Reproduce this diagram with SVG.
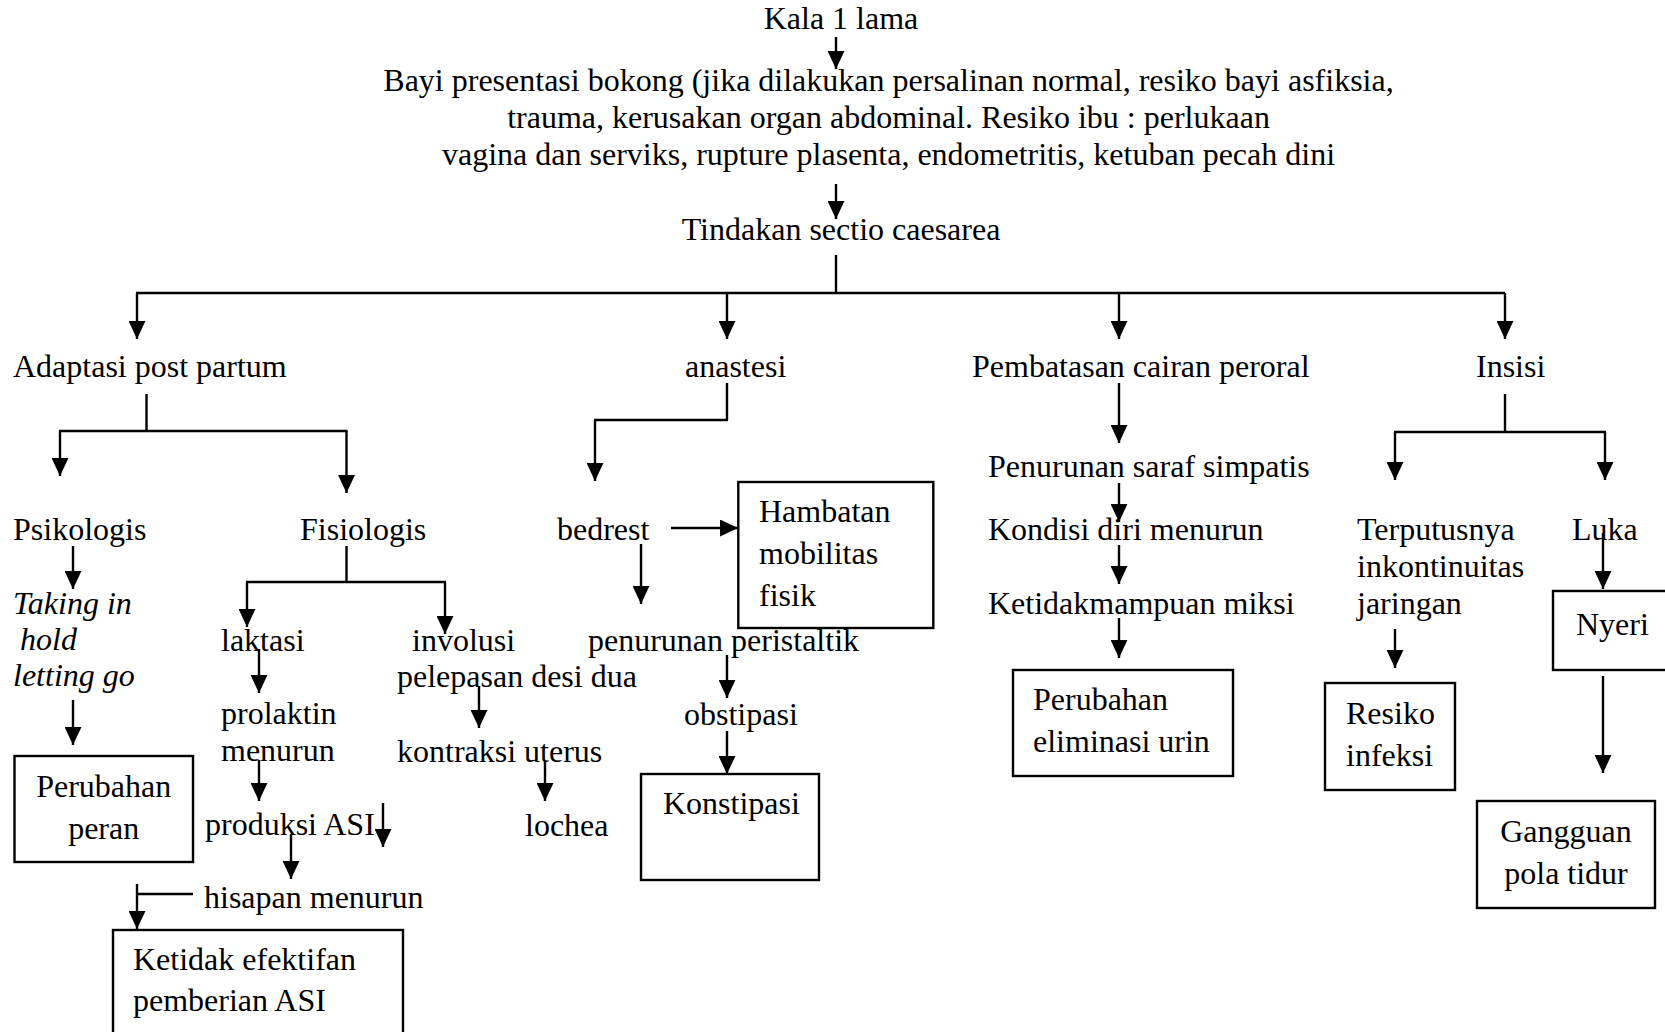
<svg xmlns="http://www.w3.org/2000/svg" width="1665" height="1032" viewBox="0 0 1665 1032">
<style>
text{font-family:"Liberation Serif","Times New Roman",serif;font-size:32px;fill:#000}
.it{font-style:italic}
.mid{text-anchor:middle}
.box{fill:none;stroke:#000;stroke-width:2.4}
.c line,.c path{stroke:#000;stroke-width:2.4;fill:none}
.a{marker-end:url(#ah)}
</style>
<defs>
<marker id="ah" markerUnits="userSpaceOnUse" markerWidth="18" markerHeight="17" viewBox="0 0 17 16" refX="17" refY="8" orient="auto">
<path d="M0,0 L17,8 L0,16 Z" fill="#000"/>
</marker>
</defs>
<rect width="1665" height="1032" fill="#fff"/>

<g id="connectors" class="c">
<line class="a" x1="836" y1="37" x2="836" y2="69"/>
<line class="a" x1="836" y1="184" x2="836" y2="219"/>
<line x1="836" y1="255" x2="836" y2="293"/>
<line x1="136" y1="293" x2="1505" y2="293"/>
<line class="a" x1="137" y1="293" x2="137" y2="339"/>
<line class="a" x1="727" y1="293" x2="727" y2="339"/>
<line class="a" x1="1119" y1="293" x2="1119" y2="339"/>
<line class="a" x1="1505" y1="293" x2="1505" y2="339"/>
<line x1="146.5" y1="394" x2="146.5" y2="431"/>
<line x1="59" y1="431" x2="347.5" y2="431"/>
<line class="a" x1="60" y1="431" x2="60" y2="476"/>
<line class="a" x1="346.5" y1="431" x2="346.5" y2="493"/>
<line class="a" x1="73" y1="546" x2="73" y2="589"/>
<line class="a" x1="73" y1="700" x2="73" y2="745"/>
<line x1="346.5" y1="546" x2="346.5" y2="582"/>
<line x1="246" y1="582" x2="446" y2="582"/>
<line class="a" x1="247" y1="582" x2="247" y2="627"/>
<line class="a" x1="445" y1="582" x2="445" y2="634"/>
<line class="a" x1="259" y1="649" x2="259" y2="693"/>
<line class="a" x1="259" y1="760" x2="259" y2="801"/>
<line class="a" x1="383" y1="803" x2="383" y2="847"/>
<line class="a" x1="291" y1="835" x2="291" y2="879"/>
<line x1="137" y1="894" x2="193" y2="894"/>
<line class="a" x1="137" y1="884" x2="137" y2="929"/>
<line class="a" x1="479" y1="686" x2="479" y2="728"/>
<line class="a" x1="545" y1="760" x2="545" y2="801"/>
<line x1="727" y1="383" x2="727" y2="420"/>
<line x1="594" y1="420" x2="728" y2="420"/>
<line class="a" x1="595" y1="420" x2="595" y2="481"/>
<line class="a" x1="671" y1="528" x2="738" y2="528"/>
<line class="a" x1="641" y1="544" x2="641" y2="604"/>
<line class="a" x1="727" y1="655" x2="727" y2="698"/>
<line class="a" x1="727" y1="731" x2="727" y2="774"/>
<line class="a" x1="1119" y1="383" x2="1119" y2="443"/>
<line class="a" x1="1119" y1="483" x2="1119" y2="522"/>
<line class="a" x1="1119" y1="545" x2="1119" y2="584"/>
<line class="a" x1="1119" y1="618" x2="1119" y2="658"/>
<line x1="1505" y1="394" x2="1505" y2="432"/>
<line x1="1394" y1="432" x2="1606" y2="432"/>
<line class="a" x1="1395" y1="432" x2="1395" y2="480"/>
<line class="a" x1="1605" y1="432" x2="1605" y2="480"/>
<line class="a" x1="1395" y1="629" x2="1395" y2="668"/>
<line class="a" x1="1603" y1="533" x2="1603" y2="589"/>
<line class="a" x1="1603" y1="676" x2="1603" y2="773"/>
</g>

<g id="n-kala"><text class="mid" x="841" y="29">Kala 1 lama</text></g>
<g id="n-bayi">
<text class="mid" x="888.5" y="91">Bayi presentasi bokong (jika dilakukan persalinan normal, resiko bayi asfiksia,</text>
<text class="mid" x="888.5" y="128">trauma, kerusakan organ abdominal. Resiko ibu : perlukaan</text>
<text class="mid" x="888.5" y="165">vagina dan serviks, rupture plasenta, endometritis, ketuban pecah dini</text>
</g>
<g id="n-tindakan"><text class="mid" x="841" y="240">Tindakan sectio caesarea</text></g>
<g id="n-adaptasi"><text x="13" y="377">Adaptasi post partum</text></g>
<g id="n-anastesi"><text x="685" y="377">anastesi</text></g>
<g id="n-pembatasan"><text x="972" y="377">Pembatasan cairan peroral</text></g>
<g id="n-insisi"><text x="1476" y="377">Insisi</text></g>

<g id="n-psikologis"><text x="13" y="540">Psikologis</text></g>
<g id="n-fisiologis"><text x="300" y="540">Fisiologis</text></g>
<g id="n-taking">
<text class="it" x="13" y="614">Taking in</text>
<text class="it" x="20" y="650">hold</text>
<text class="it" x="13" y="686">letting go</text>
</g>
<g id="n-perubahan-peran">
<rect class="box" x="14.5" y="756" width="178.5" height="106"/>
<text class="mid" x="103.7" y="797">Perubahan</text>
<text class="mid" x="103.7" y="839">peran</text>
</g>
<g id="n-laktasi"><text x="221" y="651">laktasi</text></g>
<g id="n-involusi"><text x="412" y="651">involusi</text></g>
<g id="n-prolaktin">
<text x="221" y="724">prolaktin</text>
<text x="221" y="761">menurun</text>
</g>
<g id="n-produksi"><text x="205" y="835">produksi ASI</text></g>
<g id="n-hisapan"><text x="204" y="908">hisapan menurun</text></g>
<g id="n-ketidak">
<rect class="box" x="113" y="930" width="290" height="120"/>
<text x="133" y="970">Ketidak efektifan</text>
<text x="133" y="1011">pemberian ASI</text>
</g>
<g id="n-pelepasan"><text x="397" y="687">pelepasan desi dua</text></g>
<g id="n-kontraksi"><text x="397" y="762">kontraksi uterus</text></g>
<g id="n-lochea"><text x="525" y="836">lochea</text></g>

<g id="n-bedrest"><text x="557" y="540">bedrest</text></g>
<g id="n-hambatan">
<rect class="box" x="738.3" y="482" width="195" height="146"/>
<text x="759" y="522">Hambatan</text>
<text x="759" y="564">mobilitas</text>
<text x="759" y="606">fisik</text>
</g>
<g id="n-peristaltik"><text x="588" y="651">penurunan peristaltik</text></g>
<g id="n-obstipasi"><text x="684" y="725">obstipasi</text></g>
<g id="n-konstipasi">
<rect class="box" x="641" y="774" width="178" height="106"/>
<text x="663" y="814">Konstipasi</text>
</g>

<g id="n-saraf"><text x="988" y="477">Penurunan saraf simpatis</text></g>
<g id="n-kondisi"><text x="988" y="540">Kondisi diri menurun</text></g>
<g id="n-miksi"><text x="988" y="614">Ketidakmampuan miksi</text></g>
<g id="n-eliminasi">
<rect class="box" x="1013" y="670" width="220" height="106"/>
<text x="1033" y="710">Perubahan</text>
<text x="1033" y="752">eliminasi urin</text>
</g>

<g id="n-terputusnya">
<text x="1357" y="540">Terputusnya</text>
<text x="1357" y="577">inkontinuitas</text>
<text x="1357" y="614">jaringan</text>
</g>
<g id="n-resiko">
<rect class="box" x="1325" y="683" width="130" height="107"/>
<text x="1346" y="724">Resiko</text>
<text x="1346" y="766">infeksi</text>
</g>
<g id="n-luka"><text x="1572" y="540">Luka</text></g>
<g id="n-nyeri">
<rect class="box" x="1553" y="591" width="130" height="79"/>
<text x="1576" y="635">Nyeri</text>
</g>
<g id="n-gangguan">
<rect class="box" x="1477" y="801" width="178" height="107"/>
<text class="mid" x="1566" y="842">Gangguan</text>
<text class="mid" x="1566" y="884">pola tidur</text>
</g>
</svg>
